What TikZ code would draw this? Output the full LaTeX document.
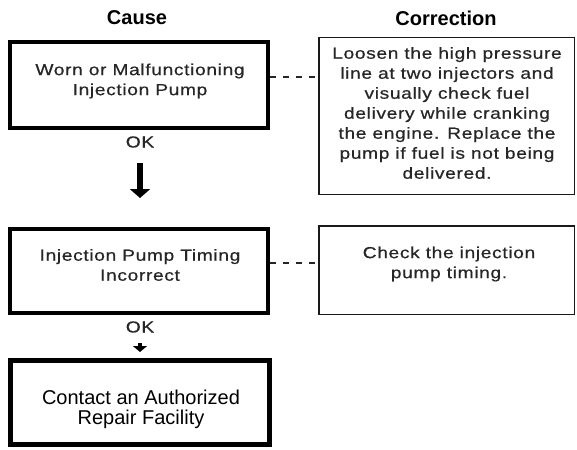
\documentclass[tikz,border=0pt]{standalone}
\usepackage{fontspec}
\setmainfont{Liberation Sans}
\newfontfamily\bodyf{Liberation Sans}[FakeStretch=1.2, LetterSpace=4, FakeBold=0.6]
\usetikzlibrary{arrows.meta}
\begin{document}
\begin{tikzpicture}[x=1pt,y=-1pt,
  head/.style={font=\fontsize{20}{24}\selectfont\bfseries, inner sep=0pt},
  body/.style={font=\bodyf\fontsize{16}{20}\selectfont, align=center, text=black!85, inner sep=0pt},
  big/.style={font=\fontsize{20}{20}\selectfont, align=center, text=black, inner sep=0pt},
  causebox/.style={draw=black, line width=4pt, inner sep=0pt, minimum width=258pt},
  finalbox/.style={draw=black, line width=5pt, inner sep=0pt, minimum width=259pt, minimum height=84pt},
  corrbox/.style={draw=black!90, line width=1.5pt, inner sep=0pt, minimum width=255.5pt},
  dots/.style={draw=black!85, line width=1.5pt, dash pattern=on 6pt off 7pt},
  flow/.style={draw=black, line width=6pt, -{Triangle[width=20pt,length=9pt]}}
]
\useasboundingbox (0,0) rectangle (577,449);

% headers
\node[head] (hcause) at (137,18) {Cause};
\node[head] (hcorr) at (446,18) {Correction};

% boxes
\node[causebox, minimum height=86pt] (box1) at (139,85) {};
\node[causebox, minimum height=84pt] (box2) at (139,271) {};
\node[finalbox] (box3) at (140,402.5) {};
\node[corrbox, minimum height=156.5pt] (corr1) at (446.5,116) {};
\node[corrbox, minimum height=88.5pt] (corr2) at (446.5,270) {};

% texts
\node[body] (t1) at (140,81) {Worn or Malfunctioning\\Injection Pump};
\node[body] (t2) at (140,265) {Injection Pump Timing\\Incorrect};
\node[big] (t3) at (141,409) {Contact an Authorized\\Repair Facility};
\node[body] (c1) at (447,113) {Loosen the high pressure\\line at two injectors and\\visually check fuel\\delivery while cranking\\the engine. Replace the\\pump if fuel is not being\\delivered.};
\node[body] (c2) at (449,264) {Check the injection\\pump timing.};

% OK labels
\node[body] (ok1) at (140,142) {OK};
\node[body] (ok2) at (140,327) {OK};

% dotted links
\draw[dots] ([yshift=8pt]box1.east) -- ([yshift=39pt]corr1.west);
\draw[dots] ([yshift=8pt]box2.east) -- ([yshift=7pt]corr2.west);

% flow arrows
\draw[flow, shorten <=33pt, shorten >=29pt] ([xshift=1pt]box1.south) -- ([xshift=1pt]box2.north);
\draw[draw=black, line width=4pt, -{Triangle[width=14pt,length=6pt]}, shorten <=28pt, shorten >=6pt] ([xshift=1pt]box2.south) -- (box3.north);
\end{tikzpicture}
\end{document}
